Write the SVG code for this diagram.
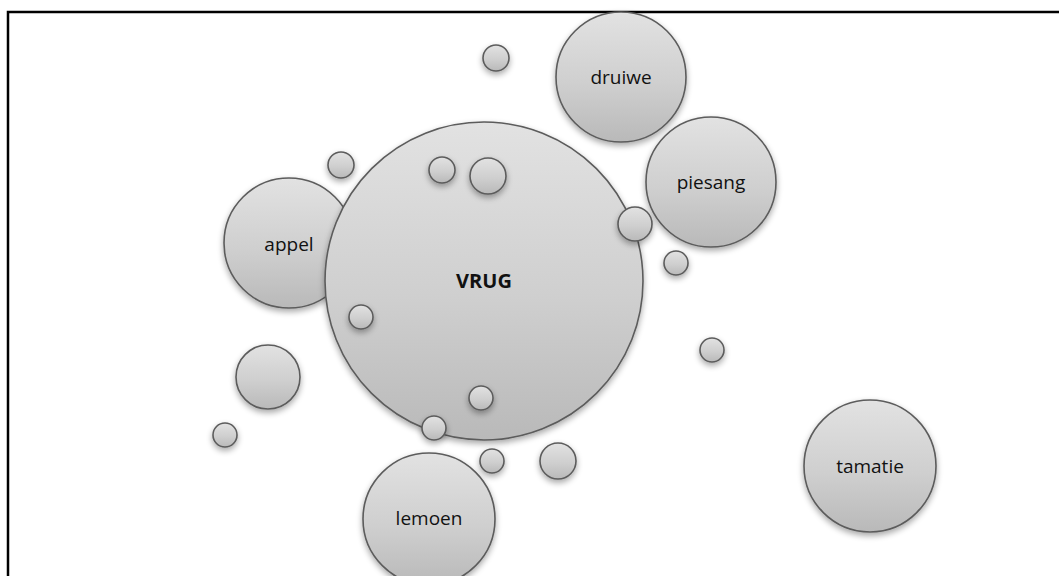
<svg xmlns="http://www.w3.org/2000/svg" width="1059" height="576" viewBox="0 0 1059 576">
  <defs>
    <linearGradient id="ball" x1="0" y1="0" x2="0" y2="1">
      <stop offset="0" stop-color="#e2e2e2"/>
      <stop offset="0.55" stop-color="#cfcfcf"/>
      <stop offset="1" stop-color="#b9b9b9"/>
    </linearGradient>
    <filter id="shade" x="-30%" y="-30%" width="160%" height="170%">
      <feGaussianBlur in="SourceAlpha" stdDeviation="3"/>
      <feOffset dy="3" result="b"/>
      <feComponentTransfer><feFuncA type="linear" slope="0.35"/></feComponentTransfer>
      <feMerge><feMergeNode/><feMergeNode in="SourceGraphic"/></feMerge>
    </filter>
  </defs>
  <style>
    .bubble { fill: url(#ball); stroke: #5c5c5c; stroke-width: 1.6; filter: url(#shade); }
    .label { font-family: "Open Sans", "Liberation Sans", sans-serif; font-size: 19px; fill: #111; text-anchor: middle; dominant-baseline: central; }
    .title { font-weight: bold; font-size: 20px; }
    .frame { fill: none; stroke: #000; stroke-width: 2.5; }
  </style>

  <rect width="1059" height="576" fill="#fff"/>
  <path class="frame" d="M8 580 V12 H1062"/>

  <g id="connectors"/>

  <!-- outer bubbles drawn behind the centre one -->
  <g id="appel"><circle class="bubble" cx="289" cy="243" r="65"/><text class="label" x="289" y="244">appel</text></g>
  <g id="druiwe"><circle class="bubble" cx="621" cy="77" r="65"/><text class="label" x="621" y="77">druiwe</text></g>
  <g id="piesang"><circle class="bubble" cx="711" cy="182" r="65"/><text class="label" x="711" y="182">piesang</text></g>

  <g id="vrug"><circle class="bubble" cx="484" cy="281" r="159"/><text class="label title" x="484" y="280">VRUG</text></g>

  <g id="lemoen"><circle class="bubble" cx="429" cy="519" r="66"/><text class="label" x="429" y="518">lemoen</text></g>
  <g id="tamatie"><circle class="bubble" cx="870" cy="466" r="66"/><text class="label" x="870" y="466">tamatie</text></g>

  <!-- small satellite bubbles -->
  <g id="dots">
    <circle class="bubble" cx="496" cy="58" r="13"/>
    <circle class="bubble" cx="341" cy="165" r="13"/>
    <circle class="bubble" cx="442" cy="170" r="13"/>
    <circle class="bubble" cx="488" cy="176" r="18"/>
    <circle class="bubble" cx="635" cy="224" r="17"/>
    <circle class="bubble" cx="676" cy="263" r="12"/>
    <circle class="bubble" cx="361" cy="317" r="12"/>
    <circle class="bubble" cx="712" cy="350" r="12"/>
    <circle class="bubble" cx="268" cy="377" r="32"/>
    <circle class="bubble" cx="481" cy="398" r="12"/>
    <circle class="bubble" cx="434" cy="428" r="12"/>
    <circle class="bubble" cx="225" cy="435" r="12"/>
    <circle class="bubble" cx="492" cy="461" r="12"/>
    <circle class="bubble" cx="558" cy="461" r="18"/>
  </g>
</svg>
